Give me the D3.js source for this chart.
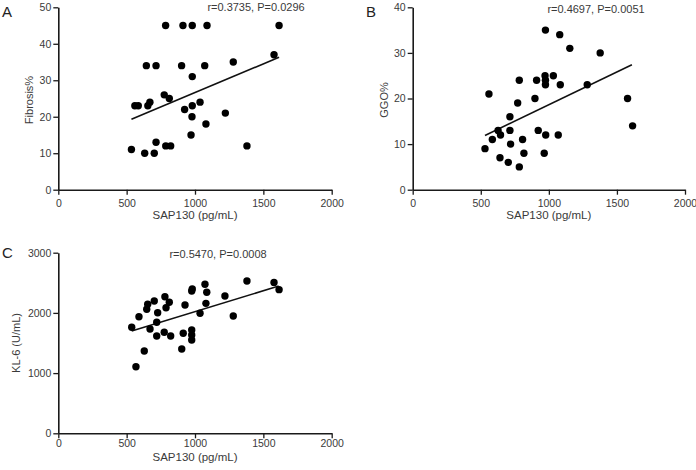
<!DOCTYPE html>
<html><head><meta charset="utf-8">
<script src="https://cdn.jsdelivr.net/npm/d3@7"></script>
<style>
body{margin:0;background:#fff;}
svg{display:block;font-family:"Liberation Sans",Arial,Helvetica,sans-serif;}
</style></head>
<body>
<svg id="c" width="696" height="470"></svg>
<script>
// ---- data ----
const xTicks = [0, 500, 1000, 1500, 2000];
const xLabel = "SAP130 (pg/mL)";

const sapA = [535,560,585,655,670,632,702,715,644,715,785,775,812,786,822,912,980,1088,902,980,1071,924,980,1037,978,971,1080,1222,1280,1380,1578,1615];
const fibA = [11,23,23,23,24,10,10,13,34,34,45,26,25,12,12,45,45,45,34,31,34,22,23,24,20,15,18,21,35,12,37,45];
const ticksA = [0,10,20,30,40,50];
const fitA = [[535,19.3],[1615,36.3]];   // regression line ends (SAP130, Fibrosis%)

const sapB = [531,560,585,627,645,641,702,714,714,719,783,771,783,807,817,898,910,922,975,972,975,975,977,966,1033,1080,1084,1069,1154,1282,1377,1578,1615];
const ggoB = [9,21,11,13,12,7,6,16,13,10,24,19,5,11,8,20,24,13,35,25,24,23,12,8,25,34,23,12,31,23,30,20,14];
const ticksB = [0,10,20,30,40];
const fitB = [[531,11.9],[1610,27.4]];

const sapC = [537,568,590,629,654,647,671,702,727,720,720,780,788,812,775,822,903,914,927,976,980,976,976,976,1037,1073,1086,1080,1219,1280,1380,1578,1615];
const kl6C = [1761,1106,1937,1367,2143,2060,1733,2198,2003,1844,1616,2269,2086,2176,1678,1616,1400,1661,2131,2364,2397,1716,1633,1550,1993,2475,2342,2159,2281,1948,2529,2507,2386];
const ticksC = [0,1000,2000,3000];
const fitC = [[537,1700],[1612,2446]];

const panelLetters = ["A","B","C"];
const yLabels = ["Fibrosis%","GGO%","KL-6 (U/mL)"];
const stats = ["r=0.3735, P=0.0296","r=0.4697, P=0.0051","r=0.5470, P=0.0008"];

// ---- layout ----
const panels = [
  {xs:sapA, ys:fibA, yt:ticksA, fit:fitA, x0:58.3, x1:331.7, yb:189.7, ytop:7.3, letter:[2,16.7], ylab:[32.5,100], stat:[256,10.8], xlabY:219, tickY:207.3},
  {xs:sapB, ys:ggoB, yt:ticksB, fit:fitB, x0:412.7, x1:685, yb:189.7, ytop:7.3, letter:[366,17.3], ylab:[388,100], stat:[596,13], xlabY:219, tickY:207.3},
  {xs:sapC, ys:kl6C, yt:ticksC, fit:fitC, x0:58.3, x1:331.7, yb:433.3, ytop:252.7, letter:[2,257.5], ylab:[19.5,343], stat:[218,258], xlabY:461, tickY:446.7}
];

const svg = d3.select("#c");
const axisCol = "#1a1a1a", textCol = "#3a3a3a";
const fmt = d3.format("d");

panels.forEach((p,i)=>{
  const x = d3.scaleLinear().domain([0,2000]).range([p.x0,p.x1]);
  const y = d3.scaleLinear().domain([0,d3.max(p.yt)]).range([p.yb,p.ytop]);
  const g = svg.append("g");

  const gx = g.append("g").attr("transform",`translate(0,${p.yb})`)
    .call(d3.axisBottom(x).tickValues(xTicks).tickFormat(fmt).tickSize(5).tickPadding(3).tickSizeOuter(0));
  const gy = g.append("g").attr("transform",`translate(${p.x0},0)`)
    .call(d3.axisLeft(y).tickValues(p.yt).tickFormat(fmt).tickSize(5).tickPadding(2).tickSizeOuter(0));
  [gx,gy].forEach(a=>{
    a.selectAll("path").attr("stroke",axisCol).attr("stroke-width",1.6);
    a.selectAll("line").attr("stroke",axisCol).attr("stroke-width",1.3);
    a.selectAll("text").attr("fill",textCol).style("font-size","10.5px");
  });
  gx.selectAll(".tick text").attr("y",null).attr("dy",null)
    .attr("transform",`translate(0,${p.tickY-p.yb})`);

  // regression line
  g.append("line")
    .attr("x1",x(p.fit[0][0])).attr("y1",y(p.fit[0][1]))
    .attr("x2",x(p.fit[1][0])).attr("y2",y(p.fit[1][1]))
    .attr("stroke","#111").attr("stroke-width",1.6);

  // dots
  g.selectAll("circle").data(p.xs.map((v,k)=>[v,p.ys[k]])).join("circle")
    .attr("cx",d=>x(d[0])).attr("cy",d=>y(d[1])).attr("r",3.7).attr("fill","#000");

  // texts
  g.append("text").attr("x",p.letter[0]).attr("y",p.letter[1])
    .attr("fill","#222").style("font-size","15px").text(panelLetters[i]);
  g.append("text").attr("transform",`translate(${p.ylab[0]},${p.ylab[1]}) rotate(-90)`)
    .attr("text-anchor","middle").attr("fill",textCol).style("font-size","11px").text(yLabels[i]);
  g.append("text").attr("x",p.stat[0]).attr("y",p.stat[1]).attr("text-anchor","middle")
    .attr("fill",textCol).style("font-size","11px").text(stats[i]);
  g.append("text").attr("x",(p.x0+p.x1)/2).attr("y",p.xlabY).attr("text-anchor","middle")
    .attr("fill",textCol).style("font-size","11.5px").text(xLabel);
});
</script>
</body></html>
